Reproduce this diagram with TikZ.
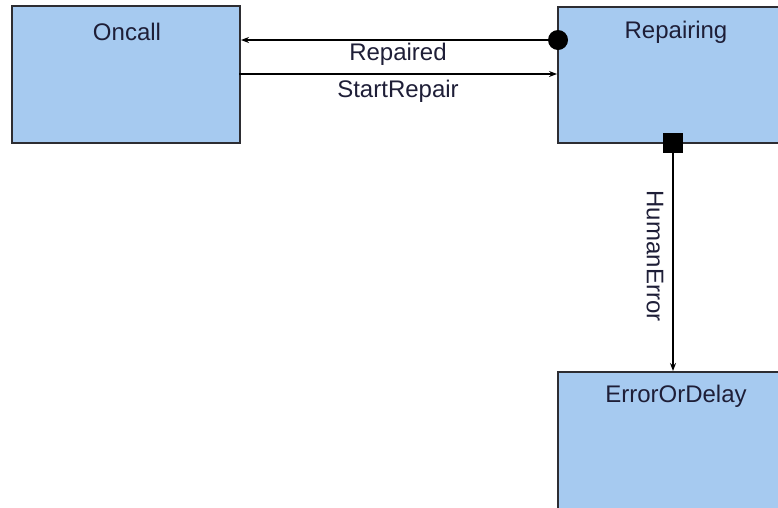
\documentclass[tikz,border=0pt]{standalone}
\usepackage{fontspec}
\setmainfont{Liberation Sans}
\usetikzlibrary{arrows.meta}
\definecolor{boxfill}{RGB}{166,202,240}
\definecolor{boxline}{RGB}{45,45,50}
\definecolor{txt}{RGB}{30,30,55}
\begin{document}
\begin{tikzpicture}[x=1pt,y=-1pt,
  state/.style={draw=boxline,line width=2pt,fill=boxfill,anchor=north west,inner sep=0pt},
  title/.style={text=txt,font=\fontsize{24}{28}\selectfont,inner sep=0pt,anchor=center},
  lab/.style={text=txt,font=\fontsize{24}{28}\selectfont,inner sep=0pt},
  conn/.style={line width=1.6pt,draw=black},
  tip/.style={-{Stealth[length=8pt,width=6pt]}}
]
\useasboundingbox (0,0) rectangle (778,507);
\clip (0,0) rectangle (778,507);
% states
\node[state,minimum width=228pt,minimum height=137pt] (oncall) at (11,5) {};
\node[state,minimum width=238pt,minimum height=136pt] (repairing) at (557,6) {};
\node[state,minimum width=238pt,minimum height=150pt] (error) at (557,371) {};
\node[title] (toncall) at (127,32) {Oncall};
\node[title] (trepairing) at (676,32) {Repairing};
\node[title] (terror) at (676,396) {ErrorOrDelay};
% Repaired
\node[circle,fill=black,inner sep=0pt,minimum size=20pt] (dot) at (558,40) {};
\coordinate (repin) at (239,40);
\draw[conn,tip] (dot.center) -- (oncall.east |- repin);
\node[lab] (lrepaired) at (398,54) {Repaired};
% StartRepair
\coordinate (srout) at (239,74);
\draw[conn,tip] (srout) -- (repairing.west |- srout);
\node[lab] (lstart) at (398,91) {StartRepair};
% HumanError
\node[rectangle,fill=black,inner sep=0pt,minimum size=20pt] (sq) at (673,143) {};
\draw[conn,tip] (sq.center) -- (sq |- error.north);
\node[lab,rotate=-90] (lhuman) at (655,256) {HumanError};
\end{tikzpicture}
\end{document}
